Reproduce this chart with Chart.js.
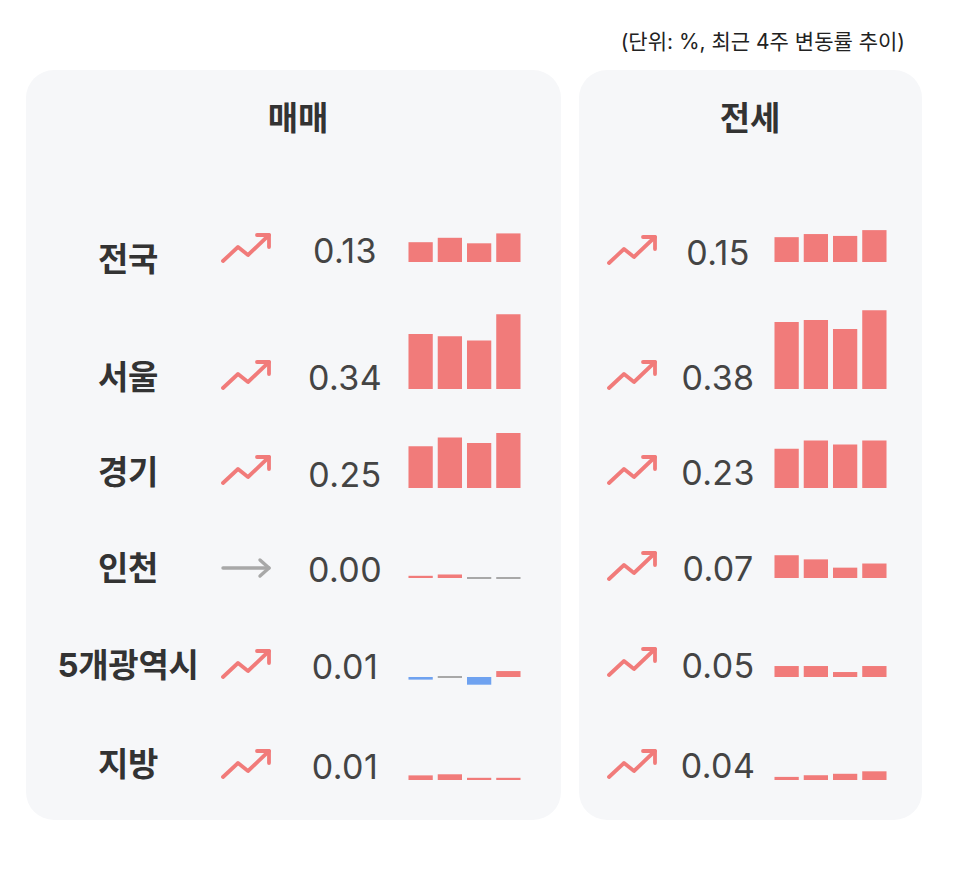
<!DOCTYPE html>
<html lang="ko">
<head>
<meta charset="utf-8">
<script src="https://cdn.jsdelivr.net/npm/chart.js@4.4.1/dist/chart.umd.min.js"></script>
<style>
  html, body { margin: 0; padding: 0; background: #fff; }
  body { width: 966px; height: 872px; position: relative; overflow: hidden;
         font-family: Inter, "Noto Sans CJK KR", sans-serif; color: #333; }
  .panel { position: absolute; top: 70px; height: 750px; background: #f6f7f9; border-radius: 28px; }
  .note { position: absolute; right: 61px; top: 27px; font-size: 21px; line-height: 30px; color: #222;
          font-weight: 400; }
  .title { position: absolute; top: 98px; width: 200px; text-align: center; font-size: 33px;
           font-weight: 700; line-height: 40px; color: #333; }
  .label { position: absolute; left: 28px; width: 200px; text-align: center; font-size: 33px;
           font-weight: 700; line-height: 40px; color: #333; letter-spacing: -0.3px; }
  .value { position: absolute; width: 120px; text-align: center; font-size: 34px;
           line-height: 40px; color: #444; letter-spacing: 0.4px; }
  .arrow { position: absolute; width: 52px; height: 36px; }
  canvas.mini { position: absolute; }
</style>
</head>
<body>
<div class="note">(단위: %, 최근 4주 변동률 추이)</div>
<div class="panel" style="left:26px;width:535px;"></div>
<div class="panel" style="left:579px;width:343px;"></div>
<div class="title" style="left:198px;">매매</div>
<div class="title" style="left:650px;">전세</div>
<div id="rows"></div>

<script>
// data
var regions = ['전국', '서울', '경기', '인천', '5개광역시', '지방'];
var weeks = ['1주', '2주', '3주', '4주'];
var saleNow = ['0.13', '0.34', '0.25', '0.00', '0.01', '0.01'];
var rentNow = ['0.15', '0.38', '0.23', '0.07', '0.05', '0.04'];
var saleTrend = ['up', 'up', 'up', 'flat', 'up', 'up'];
var rentTrend = ['up', 'up', 'up', 'up', 'up', 'up'];
var saleWeekly = [
    [0.09, 0.11, 0.085, 0.13],
    [0.25, 0.24, 0.22, 0.34],
    [0.19, 0.23, 0.205, 0.25],
    [0.01, 0.016, 0, 0],
    [-0.012, 0, -0.035, 0.027],
    [0.021, 0.026, 0.01, 0.01]
];
var rentWeekly = [
    [0.12, 0.135, 0.126, 0.154],
    [0.324, 0.333, 0.29, 0.38],
    [0.19, 0.23, 0.21, 0.23],
    [0.11, 0.09, 0.05, 0.07],
    [0.053, 0.053, 0.024, 0.053],
    [0.015, 0.023, 0.03, 0.042]
];

// layout
var baseY = [262, 389, 488, 578, 677, 780];
var labelY = [259, 377, 472, 568, 665, 764];
var saleValY = [251, 378, 475, 570, 667, 767];
var rentValY = [253, 378, 473, 569, 666, 766];
var saleArrowY = [248, 375, 470, 568, 664, 764];
var rentArrowY = [250, 375, 470, 566, 662, 764];

var RED = '#f17b7a', BLUE = '#6fa2f0', GRAY = '#a8a8a8';
var rows = document.getElementById('rows');

function arrowSvg(kind) {
    if (kind == 'flat') {
        return '<svg viewBox="0 0 52 36" width="52" height="36"><g fill="none" stroke="' + GRAY +
            '" stroke-width="3.4" stroke-linecap="round" stroke-linejoin="round">' +
            '<path d="M2 18 H48"/><path d="M39 10 L48 18 L39 26"/></g></svg>';
    }
    return '<svg viewBox="0 0 52 36" width="52" height="36"><g fill="none" stroke="' + RED +
        '" stroke-width="3.8" stroke-linecap="round" stroke-linejoin="round">' +
        '<path d="M2 31 L17 17 L27 25 L48 5"/><path d="M36 5 H48 V17"/></g></svg>';
}

function addText(cls, text, left, cy) {
    var d = document.createElement('div');
    d.className = cls;
    d.textContent = text;
    if (left != null) d.style.left = left + 'px';
    d.style.top = (cy - 20) + 'px';
    rows.appendChild(d);
}

function addArrow(kind, left, cy) {
    var d = document.createElement('div');
    d.className = 'arrow';
    d.style.left = left + 'px';
    d.style.top = (cy - 18) + 'px';
    d.innerHTML = arrowSvg(kind);
    rows.appendChild(d);
}

function barColor(v) {
    if (v > 0) return RED;
    if (v < 0) return BLUE;
    return GRAY;
}

function miniChart(values, left, base, pxPerUnit) {
    var c = document.createElement('canvas');
    c.className = 'mini';
    c.width = 117;
    c.height = 100;
    c.style.left = left + 'px';
    c.style.top = (base - 88) + 'px';
    rows.appendChild(c);
    new Chart(c.getContext('2d'), {
        type: 'bar',
        data: {
            labels: weeks,
            datasets: [{
                data: values,
                backgroundColor: values.map(barColor),
                barPercentage: 0.83,
                categoryPercentage: 1,
                minBarLength: 2,
                borderWidth: 0
            }]
        },
        options: {
            responsive: false,
            animation: false,
            layout: { padding: 0 },
            plugins: { legend: { display: false }, tooltip: { enabled: false } },
            scales: {
                x: { display: false },
                y: { display: false, min: -12 / pxPerUnit, max: 88 / pxPerUnit }
            }
        }
    });
}

for (var i = 0; i < regions.length; i++) {
    addText('label', regions[i], null, labelY[i]);
    addArrow(saleTrend[i], 221, saleArrowY[i]);
    addText('value', saleNow[i], 285, saleValY[i]);
    miniChart(saleWeekly[i], 406, baseY[i], 220);

    addArrow(rentTrend[i], 607, rentArrowY[i]);
    addText('value', rentNow[i], 658, rentValY[i]);
    miniChart(rentWeekly[i], 772, baseY[i], 207);
}
</script>
</body>
</html>
